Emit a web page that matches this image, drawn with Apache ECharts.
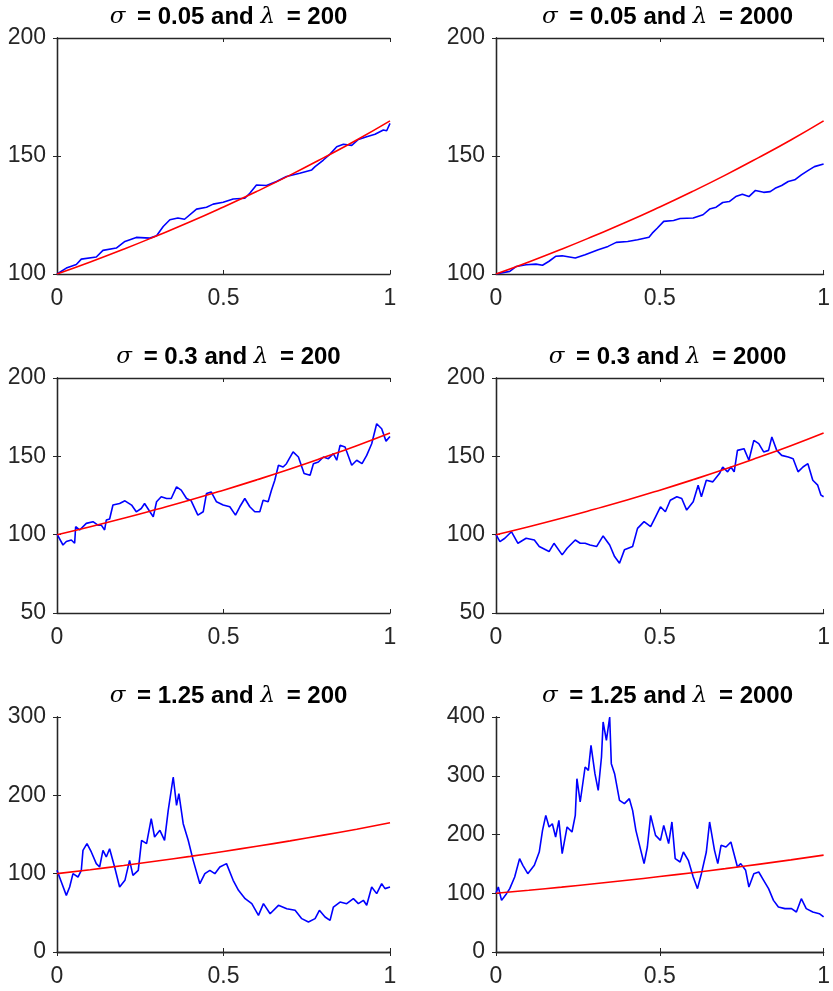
<!DOCTYPE html>
<html>
<head>
<meta charset="utf-8">
<script src="https://cdn.jsdelivr.net/npm/echarts@6/dist/echarts.min.js"></script>
<style>
  html, body { margin: 0; padding: 0; background: #fff; }
  #chart { width: 833px; height: 991px; }
</style>
</head>
<body>
<div id="chart"></div>
<script>
// titles of the six panels
var titles = [
  ['0.05', '200'], ['0.05', '2000'],
  ['0.3', '200'], ['0.3', '2000'],
  ['1.25', '200'], ['1.25', '2000']
];

// y axis ranges (min, max, step)
var yMins = [100, 100, 50, 50, 0, 0];
var yMaxs = [200, 200, 200, 200, 300, 400];
var ySteps = [50, 50, 50, 50, 100, 100];

// expected value curve (red)
var redT = [0, 0.1, 0.2, 0.3, 0.4, 0.5, 0.6, 0.7, 0.8, 0.9, 1];
var redV = [100, 105.1, 110.5, 116.2, 122.1, 128.4, 135.0, 141.9, 149.2, 156.8, 164.9];

// sample paths (blue)
var t1 = [0,.028,.058,.073,.118,.138,.178,.204,.238,.279,.299,.319,.339,.363,.383,.419,.449,.469,.499,.529,.564,.579,.599,.629,.659,.689,.729,.765,.775,.8,.82,.84,.86,.885,.905,.93,.955,.98,.99,1];
var v1 = [100,102.5,104,106.3,107.2,110,111,113.8,115.5,115.2,116.2,120.1,123,123.7,123.2,127.5,128.3,129.6,130.4,131.8,132.1,134.2,137.7,137.5,139.2,141.3,142.7,144.1,145.5,148.3,150.8,153.9,155,154.5,157,158.2,159.2,161,160.7,163.8];

var t2 = [0,.042,.062,.092,.122,.142,.162,.182,.202,.242,.272,.312,.342,.367,.402,.432,.467,.477,.492,.512,.542,.562,.602,.632,.652,.672,.692,.712,.732,.752,.772,.792,.817,.837,.852,.872,.892,.912,.932,.952,.972,1];
var v2 = [100,101.1,103.2,103.9,104.2,103.7,105.4,107.5,107.7,106.8,108.2,110.3,111.7,113.4,113.8,114.5,115.6,117.3,119.4,122.3,122.7,123.5,123.7,125.1,127.5,128.3,130.3,130.7,132.8,133.8,132.8,135.4,134.6,134.9,136.3,137.5,139.2,139.9,142,143.8,145.5,146.6];

var t3 = [0,.018,.028,.043,.053,.056,.068,.088,.108,.123,.133,.143,.148,.158,.168,.188,.204,.224,.238,.253,.263,.279,.289,.299,.313,.329,.343,.359,.373,.389,.403,.423,.439,.449,.463,.479,.499,.519,.536,.549,.564,.579,.594,.609,.619,.634,.644,.654,.665,.679,.689,.709,.725,.742,.76,.77,.785,.8,.815,.83,.84,.85,.865,.885,.9,.916,.93,.945,.96,.975,.988,1];
var v3 = [100.4,93.4,95.6,96.6,94.5,105.1,103,107.2,108.3,106.1,106.1,103,109.3,110,118.9,119.9,121.6,118.9,114.6,116.7,119.9,114.6,111.4,121,124.2,123.1,123.1,130.5,128.4,123.1,121.6,112.5,114.6,126.3,127.3,121,118.9,117.8,112.5,117.8,123.1,117.8,114.6,114.6,122,121,128.4,134.7,144.3,143.2,145.3,152.8,149.6,139,137.9,145.3,146.4,149.6,148.5,151.7,147.5,157,155.9,144.3,147.5,145.3,150.6,158,170.8,167.6,159.7,162.7];

var t4 = [0,.012,.027,.047,.067,.092,.117,.132,.162,.177,.202,.217,.242,.257,.272,.287,.307,.327,.347,.362,.377,.392,.417,.432,.452,.472,.487,.502,.517,.532,.552,.567,.582,.602,.617,.627,.642,.662,.682,.692,.707,.717,.727,.737,.757,.772,.787,.802,.817,.832,.842,.857,.872,.892,.907,.922,.937,.952,.967,.982,.992,1];
var v4 = [100,95.6,97.7,101.9,94.5,97.7,96.6,92.4,89.2,94.5,87.1,91.3,96.6,94.5,94.5,93.4,92.4,99.2,93.4,86,81.8,90.3,92.4,104,108.3,105.1,111.4,117.8,114.6,122,124.2,123.1,115.7,121,131.6,124.2,134.7,133.7,139,143.2,140.1,143.2,140.1,153.8,154.9,147.5,160.2,158.1,152.8,153.8,162.3,153.8,150.6,149.6,148.5,140.1,143.2,145.3,134.7,131.6,125.2,124.2];

var t5 = [0,.013,.028,.038,.048,.063,.073,.078,.09,.103,.118,.128,.138,.148,.158,.173,.188,.204,.218,.228,.244,.254,.269,.283,.293,.309,.323,.334,.349,.359,.366,.379,.394,.409,.429,.444,.459,.474,.489,.509,.529,.545,.565,.585,.605,.62,.64,.665,.69,.715,.735,.755,.775,.788,.805,.82,.83,.85,.87,.89,.905,.92,.93,.945,.96,.975,.985,1];
var v5 = [104.3,89.4,72.3,83,100,95.7,104.3,129.8,138.3,127.7,112.8,108.5,129.8,121.3,131.9,108.5,83,91.5,117,97.9,104.3,142.6,138.3,170.2,146.8,155.3,142.6,180.9,223.4,187.2,202.1,163.8,142.6,117,87.2,100,104.3,100,108.5,112.8,91.5,78.7,68.1,61.7,46.8,61.7,48.9,59.6,55.3,53.2,42.6,38.3,42.6,53.2,44.7,40.4,57.4,63.8,61.7,68.1,61.7,66,59.6,83,74.5,87.2,80.9,83];

var t6 = [0,.007,.017,.032,.042,.057,.072,.082,.097,.117,.132,.142,.152,.162,.172,.182,.192,.202,.217,.232,.242,.247,.257,.272,.282,.29,.302,.312,.322,.327,.337,.347,.352,.362,.377,.392,.407,.417,.427,.442,.452,.462,.472,.487,.502,.512,.527,.537,.547,.562,.572,.587,.602,.615,.627,.642,.652,.667,.677,.687,.702,.717,.737,.747,.762,.772,.787,.802,.817,.832,.847,.862,.882,.902,.917,.932,.947,.967,.987,1];
var v6 = [100.4,110.6,87.9,99.3,107.8,127.7,158.9,147.5,133.3,147.5,170.2,207.1,232.6,212.8,218.4,195.7,224.1,167.4,212.8,204.3,232.6,295,255.3,314.9,309.2,351.8,303.5,275.2,331.9,391.5,360.3,400,320.6,303.5,258.2,252.5,261,241.1,207.1,173,150.4,178.7,232.6,198.6,190.1,215.6,184.4,221.3,158.9,153.2,170.2,156,127.7,107.8,133.3,170.2,221.3,173,150.4,181.6,178.7,187.2,144.7,150.4,139,110.6,133.3,136.2,122,107.8,87.9,76.6,73.8,73.8,68.1,90.8,73.8,68.1,65.2,59.6];

var pathT = [t1, t2, t3, t4, t5, t6];
var pathV = [v1, v2, v3, v4, v5, v6];

function pairs(xs, ys) {
  var out = [];
  for (var i = 0; i < xs.length; i++) out.push([xs[i], ys[i]]);
  return out;
}

var axisColor = '#262626';
var lefts = [57, 496];
var tops = [38, 378, 717];
var heights = [236, 235, 235];
var plotW = 333;

var option = {
  backgroundColor: '#fff',
  animation: false,
  title: [],
  grid: [],
  xAxis: [],
  yAxis: [],
  series: []
};

for (var i = 0; i < 6; i++) {
  var col = i % 2, row = Math.floor(i / 2);
  option.grid.push({ left: lefts[col], top: tops[row], width: plotW, height: heights[row] });

  option.title.push({
    text: '{s|σ}{b| = ' + titles[i][0] + ' and }{s|λ}{b| = ' + titles[i][1] + '}',
    left: lefts[col] + plotW / 2,
    top: tops[row] - 38,
    textAlign: 'center',
    textStyle: {
      rich: {
        s: { fontFamily: 'DejaVu Serif', fontStyle: 'italic', fontWeight: 'normal', fontSize: 23, color: '#000', padding: [0, 5, 0, 0] },
        b: { fontFamily: 'Liberation Sans', fontWeight: 'bold', fontSize: 24, color: '#000' }
      }
    }
  });

  // bottom / left axes with labels
  option.xAxis.push({
    type: 'value', gridIndex: i, min: 0, max: 1, interval: 0.5,
    axisLine: { lineStyle: { color: axisColor, width: 1.3 } },
    axisTick: { inside: true, length: 4, lineStyle: { color: axisColor } },
    splitLine: { show: false },
    axisLabel: { color: axisColor, fontFamily: 'Liberation Sans', fontSize: 23, margin: 13,
      formatter: function (v) { return String(v); } }
  });
  option.yAxis.push({
    type: 'value', gridIndex: i, min: yMins[i], max: yMaxs[i], interval: ySteps[i],
    axisLine: { show: true, lineStyle: { color: axisColor, width: 1.3 } },
    axisTick: { show: true, inside: true, length: 4, lineStyle: { color: axisColor } },
    splitLine: { show: false },
    axisLabel: { color: axisColor, fontFamily: 'Liberation Sans', fontSize: 23, margin: 11 }
  });
  // mirrored top / right axes (box)
  option.xAxis.push({
    type: 'value', gridIndex: i, position: 'top', min: 0, max: 1, interval: 0.5,
    axisLine: { lineStyle: { color: axisColor, width: 1.3 } },
    axisTick: { inside: true, length: 4, lineStyle: { color: axisColor } },
    splitLine: { show: false }, axisLabel: { show: false }
  });
  option.yAxis.push({
    type: 'value', gridIndex: i, position: 'right', min: yMins[i], max: yMaxs[i], interval: ySteps[i],
    axisLine: { show: true, lineStyle: { color: axisColor, width: 1.3 } },
    axisTick: { show: true, inside: true, length: 4, lineStyle: { color: axisColor } },
    splitLine: { show: false }, axisLabel: { show: false }
  });

  option.series.push({
    type: 'line', xAxisIndex: i * 2, yAxisIndex: i * 2,
    data: pairs(pathT[i], pathV[i]),
    showSymbol: false, clip: true,
    lineStyle: { color: '#0000ff', width: 1.6 }
  });
  option.series.push({
    type: 'line', xAxisIndex: i * 2, yAxisIndex: i * 2,
    data: pairs(redT, redV), smooth: true,
    showSymbol: false, clip: true,
    lineStyle: { color: '#ff0000', width: 1.6 }
  });
}

var myChart = echarts.init(document.getElementById('chart'));
myChart.setOption(option);
</script>
</body>
</html>
